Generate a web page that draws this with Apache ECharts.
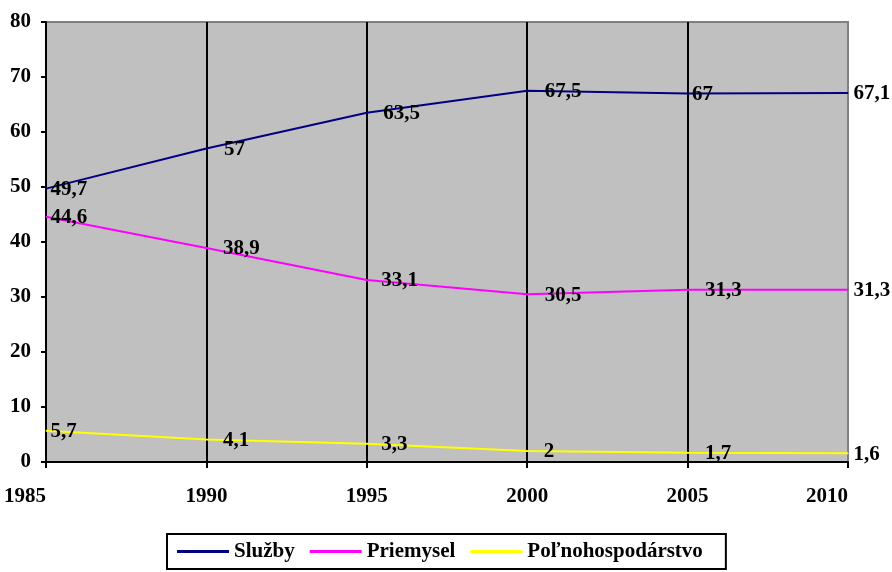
<!DOCTYPE html>
<html>
<head>
<meta charset="utf-8">
<script src="https://cdn.jsdelivr.net/npm/echarts@6/dist/echarts.min.js"></script>
<style>html,body{margin:0;padding:0;background:#fff;}#c{width:892px;height:572px;}</style>
</head>
<body>
<div id="c"></div>
<script>
var years = [1985, 1990, 1995, 2000, 2005, 2010];
var sluzby = [49.7, 57, 63.5, 67.5, 67, 67.1];
var priemysel = [44.6, 38.9, 33.1, 30.5, 31.3, 31.3];
var polnohosp = [5.7, 4.1, 3.3, 2, 1.7, 1.6];
var seriesNames = ['Služby', 'Priemysel', 'Poľnohospodárstvo'];
var yTicks = [0, 10, 20, 30, 40, 50, 60, 70, 80];

var FONT = '"Liberation Serif", "Times New Roman", serif';
var FS = 21;
var labelDx = [
  [4, 17, 16, 17, 4, 5],
  [4, 16, 14, 17, 17, 5],
  [4, 16, 14, 16, 17, 5]
];
var colors = ['#000080', '#FF00FF', '#FFFF00'];
var allVals = [sluzby, priemysel, polnohosp];

var chart = echarts.init(document.getElementById('c'));
chart.setOption({
  animation: false,
  grid: {
    left: 46, right: 44, top: 22, bottom: 110,
    show: true, backgroundColor: '#C0C0C0', borderColor: '#808080', borderWidth: 2
  },
  xAxis: {
    type: 'value', min: years[0], max: years[years.length - 1], interval: 5,
    axisLine: { show: true, lineStyle: { color: '#000', width: 2 } },
    axisTick: { show: true, length: 6, lineStyle: { color: '#000', width: 2 } },
    axisLabel: { color: '#000', fontFamily: FONT, fontWeight: 'bold', fontSize: FS, margin: 24,
      alignMinLabel: 'right', alignMaxLabel: 'right',
      formatter: function (v) { return String(v); } },
    splitLine: { show: true, lineStyle: { color: ['#000', '#000', '#000', '#000', '#000', '#808080'], width: 2 } }
  },
  yAxis: {
    type: 'value', min: yTicks[0], max: yTicks[yTicks.length - 1], interval: 10,
    axisLine: { show: true, lineStyle: { color: '#000', width: 2 } },
    axisTick: { show: true, length: 5, lineStyle: { color: '#000', width: 2 } },
    axisLabel: { color: '#000', fontFamily: FONT, fontWeight: 'bold', fontSize: FS, margin: 15 },
    splitLine: { show: false }
  },
  legend: {
    left: 167, top: 534,
    data: seriesNames,
    icon: 'rect', itemWidth: 52, itemHeight: 3, itemGap: 15,
    padding: [7, 23, 7, 10],
    borderColor: '#000', borderWidth: 2,
    itemStyle: { opacity: 1 },
    textStyle: { color: '#000', fontFamily: FONT, fontWeight: 'bold', fontSize: FS }
  },
  series: allVals.map(function (vals, si) {
    return {
      name: seriesNames[si], type: 'line',
      symbol: 'circle', symbolSize: 1, showSymbol: true,
      data: vals.map(function (v, i) { return [years[i], v]; }),
      lineStyle: { color: colors[si], width: 2 },
      itemStyle: { color: colors[si] },
      label: {
        show: true, position: 'right', distance: 5,
        color: '#000', fontFamily: FONT, fontWeight: 'bold', fontSize: FS,
        formatter: function (p) { return String(p.value[1]).replace('.', ','); }
      },
      labelLayout: function (params) {
        return { dx: labelDx[si][params.dataIndex] - 5, dy: 1, hideOverlap: false };
      },
      z: 3
    };
  })
});
</script>
</body>
</html>
